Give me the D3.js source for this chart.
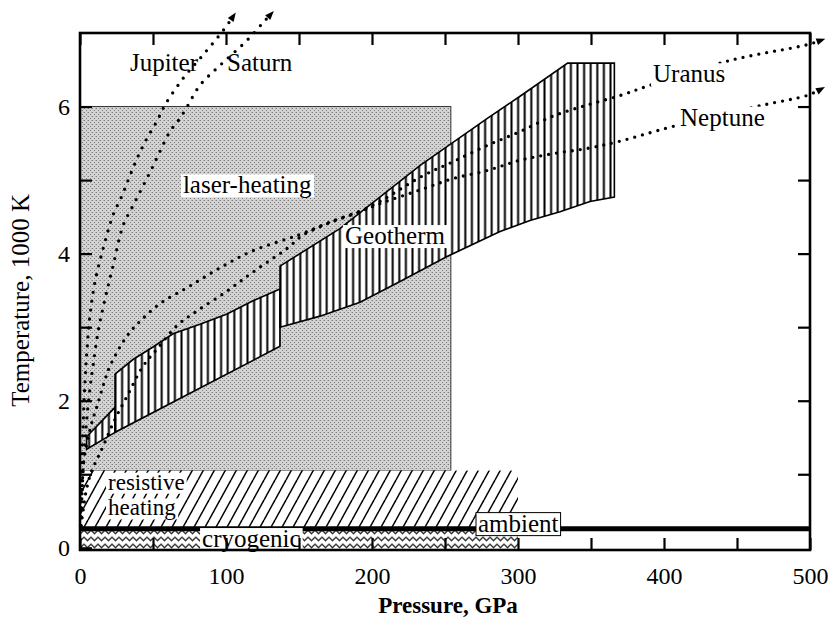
<!DOCTYPE html>
<html><head><meta charset="utf-8">
<script src="https://cdn.jsdelivr.net/npm/d3@7"></script>
<style>body{margin:0;background:#fff}svg{display:block}
svg text{font-family:"Liberation Serif",LiberationSerif,Tinos,"Times New Roman",Times,"DejaVu Serif",serif !important}</style>
</head><body><svg id="c" width="828" height="622"></svg>
<script>
// ---------- data ----------
const xTickValues = [0,50,100,150,200,250,300,350,400,450,500];
const xTickLabels = [0,100,200,300,400,500];
const yTickValues = [0,1,2,3,4,5,6];
const yTickLabels = [0,2,4,6];
const xTitle = "Pressure, GPa";
const yTitle = "Temperature, 1000 K";

// experimental regions: [P min, P max], [T min, T max]
const laserHeatingP = [0,254], laserHeatingT = [1.05,6.0];
const resistiveP = [0,300], resistiveT = [0.28,1.05];
const cryogenicP = [0,300], cryogenicT = [-0.03,0.26];
const ambientP = [0,500], ambientT = 0.26;

// planetary isentropes [P (GPa), T (1000 K)]
const jupiter = [[0.3,0.3],[1,1.0],[2,1.6],[3.4,2.25],[4.8,2.70],[6.8,3.15],[10.3,3.62],[17.1,4.16],[22.6,4.52],[28.8,4.79],[34.2,5.06],[39.7,5.32],[45.9,5.57],[52.7,5.80],[58.2,6.02],[70.5,6.38],[84.2,6.70],[97.9,7.03],[104,7.2]];
const saturn = [[0.6,0.3],[2,1.0],[4,1.6],[6.8,2.16],[8.9,2.47],[12.3,2.93],[17.1,3.38],[22.6,3.83],[29.5,4.38],[36.3,4.65],[43.2,4.92],[49.3,5.16],[54.8,5.39],[61.6,5.66],[68.5,5.84],[74.0,6.02],[82.2,6.29],[95.9,6.56],[114.4,6.90],[125.3,7.14],[129.5,7.23]];
const uranus = [[0.5,0.3],[1.5,0.8],[2.7,1.20],[8.2,1.71],[11.6,1.92],[15.8,2.20],[20.5,2.47],[32.2,2.88],[41.1,3.08],[54.8,3.32],[75.3,3.56],[97.9,3.83],[118.5,4.04],[141.8,4.20],[150.7,4.26],[171.2,4.43],[191.8,4.58],[205.5,4.71],[234.9,5.06],[255.5,5.25],[278.8,5.47],[301.4,5.66],[324.0,5.87],[347.3,6.02],[369.9,6.15],[389.0,6.28],[443.8,6.62],[497.9,6.84],[506,6.89]];
const neptune = [[0.8,0.3],[4,0.75],[8,1.05],[11.6,1.20],[15.8,1.38],[24.0,1.75],[32.2,2.06],[43.2,2.47],[52.7,2.70],[66.4,3.02],[80.1,3.22],[100.7,3.49],[118.5,3.75],[141.8,4.07],[152.7,4.25],[171.2,4.42],[191.8,4.57],[205.5,4.68],[234.9,4.88],[255.5,5.02],[278.8,5.13],[301.4,5.27],[324.0,5.36],[347.3,5.43],[369.9,5.53],[406.2,5.73],[467.8,6.02],[497.9,6.15],[506,6.22]];

// geotherm band pieces
const geoUpper1 = [[4.5,1.51],[24,1.91]];
const geoLower1 = [[4.5,1.34],[24,1.57]];
const geoUpper2 = [[24,2.36],[36.3,2.56],[50,2.73],[63.7,2.91],[82.2,3.04],[100.7,3.18],[118.5,3.36],[137,3.52]];
const geoLower2 = [[24,1.57],[137,2.74]];
const geoUpper3 = [[137,3.83],[178,4.34],[233,5.2],[279,5.84],[301.4,6.14],[334,6.59],[366,6.59]];
const geoLower3 = [[137,3.0],[164.4,3.15],[191.8,3.34],[219.2,3.62],[251.4,3.96],[287.7,4.30],[308.2,4.45],[328.8,4.57],[349.3,4.71],[366,4.77]];

// annotation labels [text, P, T(baseline)]
const planetLabels = [["Jupiter",34.2,6.49],["Saturn",100.7,6.49],["Uranus",392.5,6.33],["Neptune",411,5.74]];
const regionLabels = [["laser-heating",70.5,4.82],["Geotherm",181.5,4.13],["resistive",19.2,0.79],["heating",19.2,0.44],["cryogenic",83.6,0.01],["ambient",272.6,0.22]];

// ---------- drawing ----------
const svg = d3.select("#c");
const x = d3.scaleLinear().domain([0,500]).range([80,810]);
const y = d3.scaleLinear().domain([-0.03,7.0]).range([550,33]);

const defs = svg.append("defs");
const st = defs.append("pattern").attr("id","stipple").attr("patternUnits","userSpaceOnUse").attr("width",4).attr("height",4);
st.append("rect").attr("width",4).attr("height",4).attr("fill","#d3d3d3");
st.append("rect").attr("x",0).attr("y",0).attr("width",1).attr("height",1).attr("fill","#7c7c7c");
st.append("rect").attr("x",2).attr("y",2).attr("width",1).attr("height",1).attr("fill","#7c7c7c");
st.append("rect").attr("x",3).attr("y",0).attr("width",1).attr("height",1).attr("fill","#b0b0b0");
const dh = defs.append("pattern").attr("id","diag").attr("patternUnits","userSpaceOnUse").attr("width",11).attr("height",20);
dh.append("rect").attr("width",11).attr("height",20).attr("fill","#fff");
[-11,0,11].forEach(dx => dh.append("line").attr("x1",dx).attr("y1",20).attr("x2",dx+11).attr("y2",0).attr("stroke","#000").attr("stroke-width",1.5));
const vh = defs.append("pattern").attr("id","vert").attr("patternUnits","userSpaceOnUse").attr("width",6.6).attr("height",10);
vh.append("rect").attr("width",6.6).attr("height",10).attr("fill","#fff");
vh.append("rect").attr("x",2.3).attr("width",2).attr("height",10).attr("fill","#000");
const zz = defs.append("pattern").attr("id","zig").attr("patternUnits","userSpaceOnUse").attr("width",7).attr("height",7).attr("y",y(cryogenicT[1]));
zz.append("rect").attr("width",7).attr("height",7).attr("fill","#fff");
zz.append("path").attr("d","M-3.5,5 L0,1.5 L3.5,5 L7,1.5 L10.5,5").attr("fill","none").attr("stroke","#000").attr("stroke-width",1.1);
defs.append("marker").attr("id","arr").attr("markerUnits","userSpaceOnUse").attr("markerWidth",12).attr("markerHeight",12)
  .attr("viewBox","-2 -6 12 12").attr("refX",2).attr("refY",0).attr("orient","auto")
  .append("path").attr("d","M0,-3.5 L9,0 L0,3.5 Z").attr("fill","#000");

function box(P,T){ return {x:x(P[0]), y:y(T[1]), w:x(P[1])-x(P[0]), h:y(T[0])-y(T[1])}; }
function rectFor(P,T,fill){ const b=box(P,T); return svg.append("rect").attr("x",b.x).attr("y",b.y).attr("width",b.w).attr("height",b.h).attr("fill",fill); }

rectFor(laserHeatingP,laserHeatingT,"url(#stipple)").attr("stroke","#333").attr("stroke-width",1);
rectFor(resistiveP,resistiveT,"url(#diag)");
rectFor(cryogenicP,cryogenicT,"url(#zig)");

const lin = d3.line().x(d=>x(d[0])).y(d=>y(d[1]));
[[geoUpper1,geoLower1],[geoUpper2,geoLower2],[geoUpper3,geoLower3]].forEach(([u,l]) => {
  const poly = u.concat(l.slice().reverse());
  svg.append("path").attr("d",lin(poly)+"Z").attr("fill","url(#vert)").attr("stroke","#000").attr("stroke-width",1.6);
});

const curve = d3.line().x(d=>x(d[0])).y(d=>y(d[1])).curve(d3.curveCatmullRom);
[[jupiter,9],[saturn,9],[uranus,8],[neptune,8]].forEach(([d,gap]) => {
  svg.append("path").attr("d",curve(d)).attr("fill","none").attr("stroke","#000")
    .attr("stroke-width",3.3).attr("stroke-linecap","round").attr("stroke-dasharray","0,"+gap)
    .attr("marker-end","url(#arr)");
});

svg.append("line").attr("x1",x(ambientP[0])).attr("x2",x(ambientP[1])).attr("y1",y(ambientT)).attr("y2",y(ambientT)).attr("stroke","#000").attr("stroke-width",5);

function label(t,P,T,bg,border,fs){
  const g = svg.append("g");
  const r = g.append("rect");
  const tx = g.append("text").attr("x",x(P)).attr("y",y(T)).attr("font-size",fs||25).attr("fill","#000").text(t);
  if(bg){ const b = tx.node().getBBox();
    r.attr("x",b.x-2).attr("y",b.y+3).attr("width",b.width+4).attr("height",b.height-4).attr("fill","#fff");
    if(border) r.attr("stroke","#000").attr("stroke-width",1);
  }
}
planetLabels.forEach(([t,P,T]) => label(t,P,T,t==="Uranus"||t==="Neptune"));
regionLabels.forEach(([t,P,T]) => label(t,P,T,true,t==="ambient",(t==="resistive"||t==="heating")?23:25));

svg.append("rect").attr("x",x(0)).attr("y",y(7.0)).attr("width",x(500)-x(0)).attr("height",y(-0.03)-y(7.0)).attr("fill","none").attr("stroke","#000").attr("stroke-width",2.6);

function style(g){ g.select(".domain").remove(); g.selectAll(".tick line").attr("stroke","#000").attr("stroke-width",2.2);
  g.selectAll("text").attr("font-size",24).attr("fill","#000"); }
svg.append("g").attr("transform",`translate(0,${y(-0.03)})`)
  .call(d3.axisBottom(x).tickValues(xTickValues).tickSize(-12).tickPadding(17).tickFormat(d => xTickLabels.includes(d)? d : ""))
  .call(style);
svg.append("g").attr("transform",`translate(0,${y(7.0)})`)
  .call(d3.axisTop(x).tickValues(xTickValues).tickSize(-12).tickFormat(""))
  .call(style);
svg.append("g").attr("transform",`translate(${x(0)},0)`)
  .call(d3.axisLeft(y).tickValues(yTickValues).tickSize(-12).tickPadding(10).tickFormat(d => yTickLabels.includes(d)? d : ""))
  .call(style);
svg.append("g").attr("transform",`translate(${x(500)},0)`)
  .call(d3.axisRight(y).tickValues(yTickValues.filter(d=>d>0)).tickSize(-12).tickFormat(""))
  .call(style);

svg.append("text").attr("x",(x(0)+x(500))/2+3).attr("y",613).attr("text-anchor","middle")
  .attr("font-size",23).attr("font-weight","bold").text(xTitle);
svg.append("text").attr("transform",`translate(29,${(y(0)+y(7))/2+10}) rotate(-90)`).attr("text-anchor","middle")
  .attr("font-size",25).text(yTitle);
</script></body></html>
